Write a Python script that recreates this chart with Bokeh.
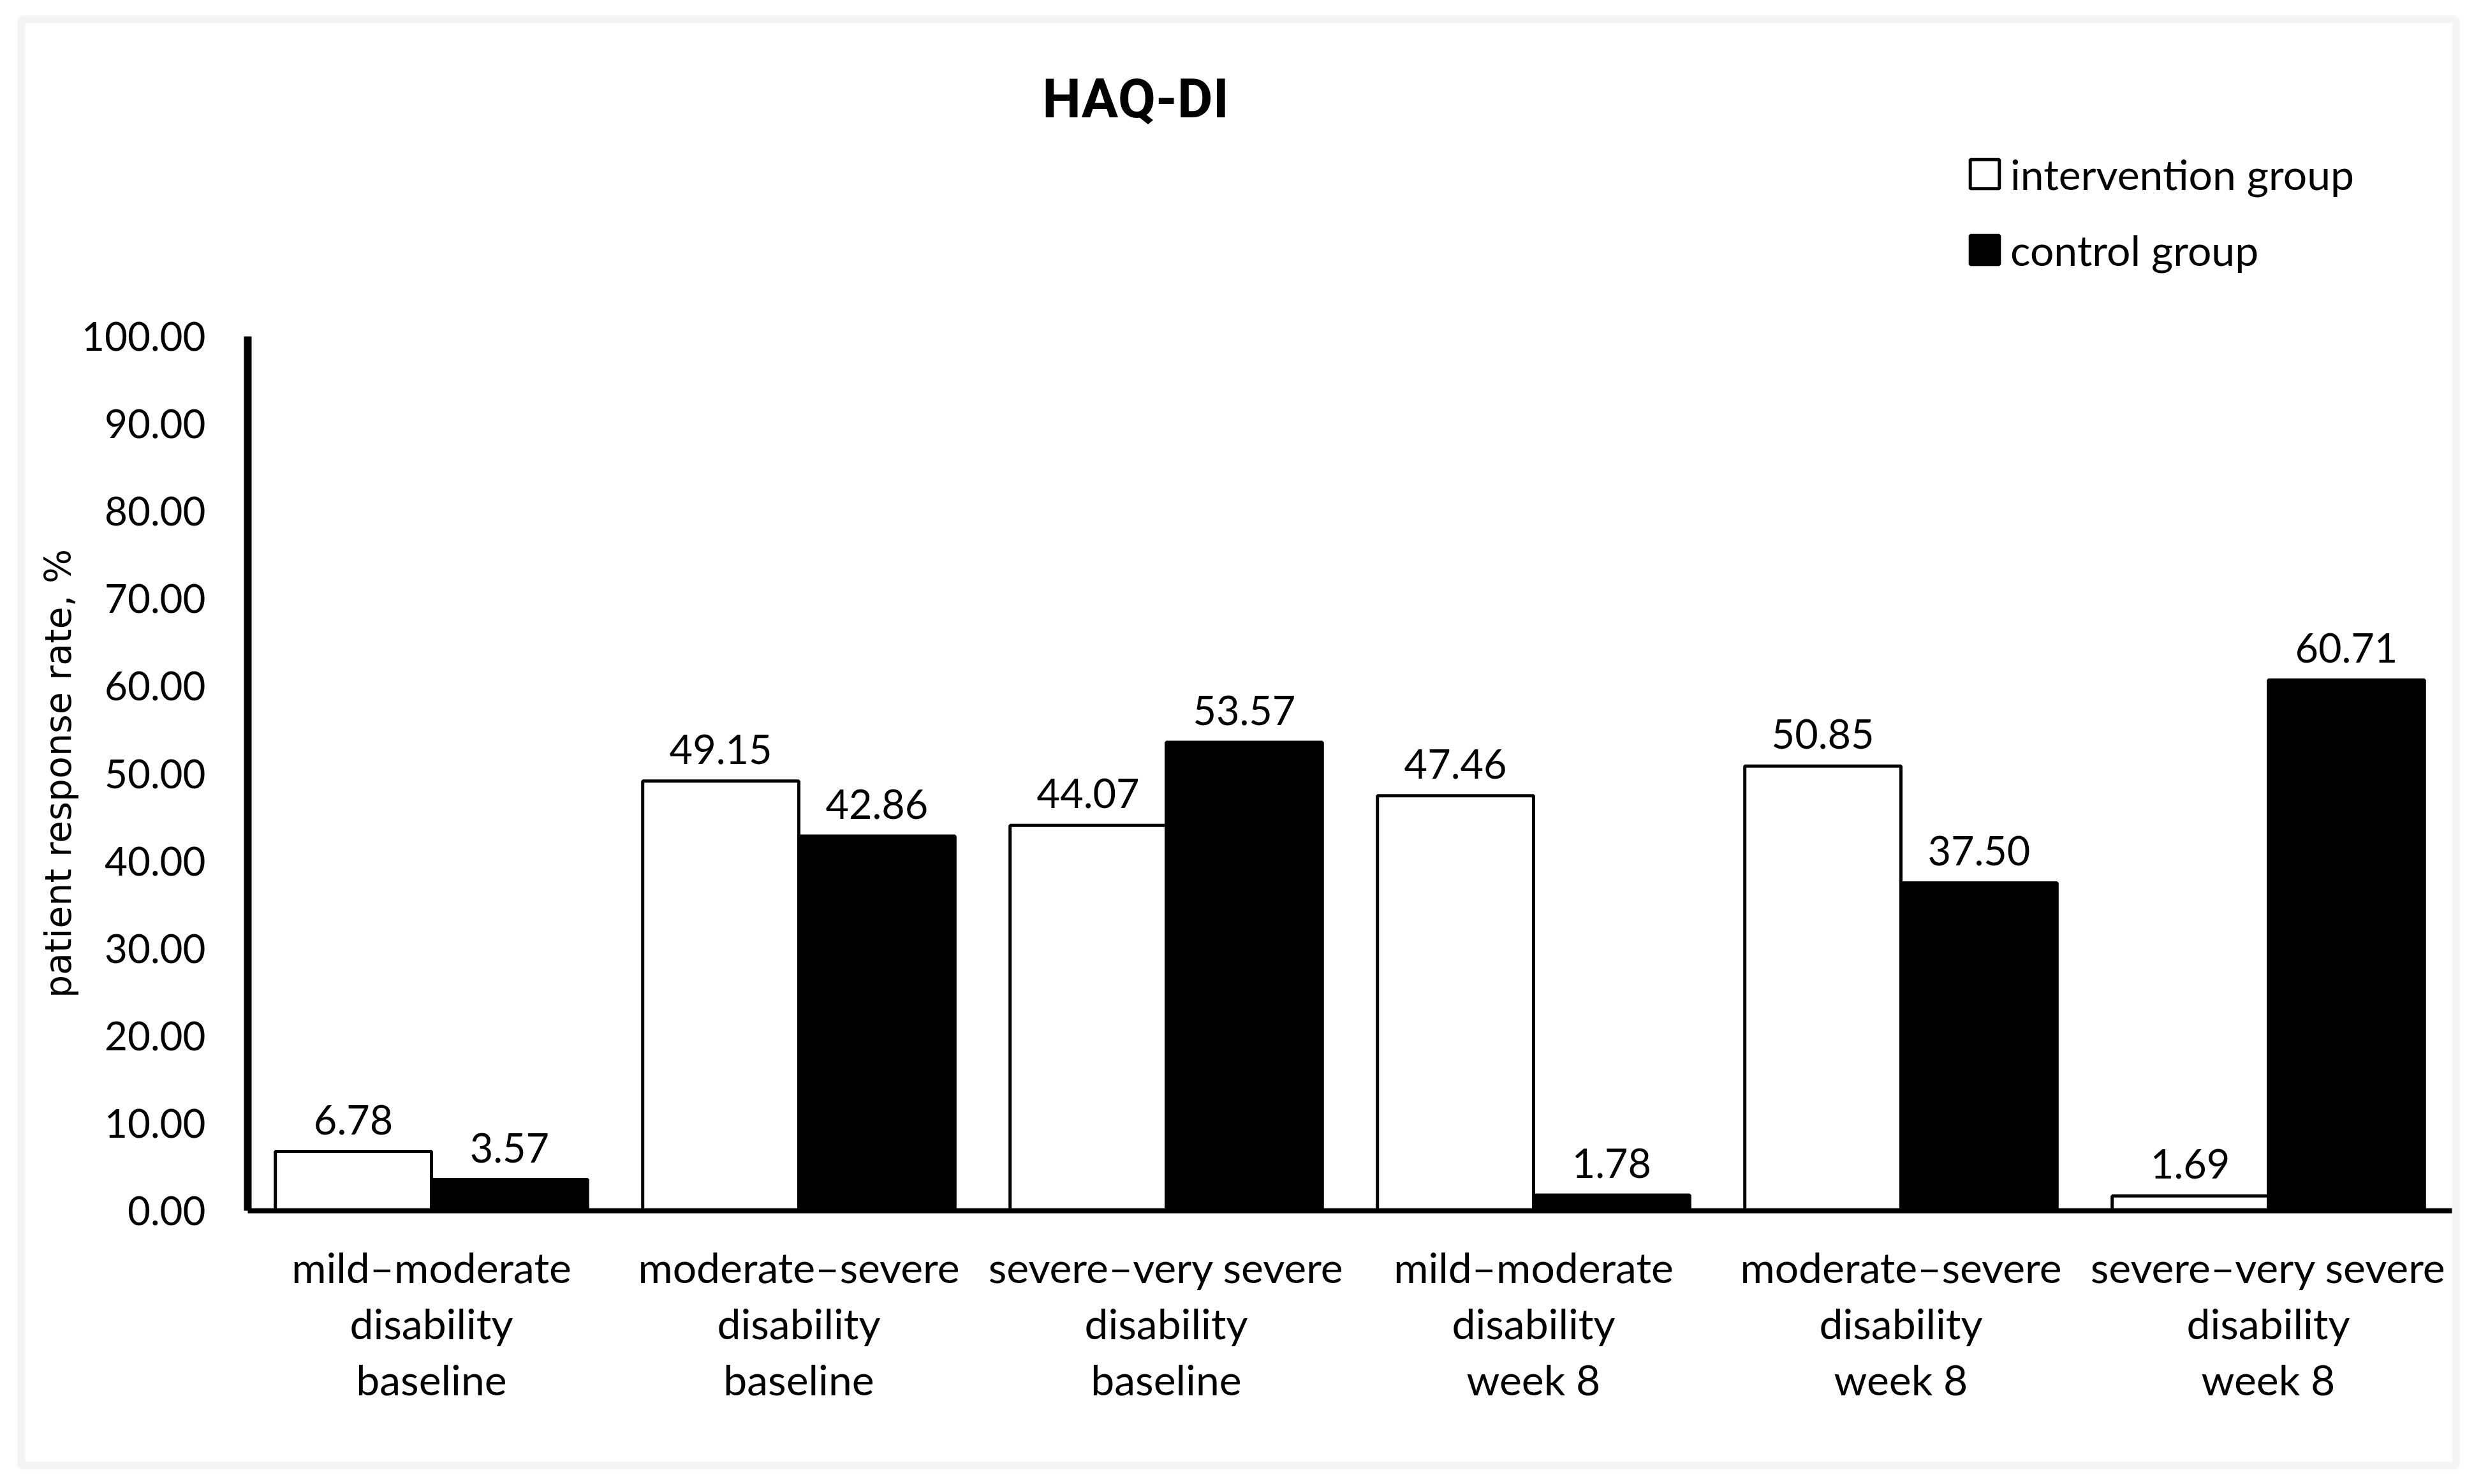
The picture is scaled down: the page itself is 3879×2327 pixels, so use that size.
import math
from bokeh.plotting import figure
from bokeh.models import (ColumnDataSource, Range1d, FixedTicker, PrintfTickFormatter,
                          Label, Legend, LegendItem, BoxAnnotation, LinearAxis)
from bokeh.core.properties import value
from bokeh.embed import file_html
from bokeh.resources import INLINE

# ---- data ----
categories = [
    "mild–moderate disability baseline",
    "moderate–severe disability baseline",
    "severe–very severe disability baseline",
    "mild–moderate disability week 8",
    "moderate–severe disability week 8",
    "severe–very severe disability week 8",
]
label_line1 = ["mild–moderate", "moderate–severe", "severe–very severe",
               "mild–moderate", "moderate–severe", "severe–very severe"]
label_line2 = ["disability"] * 6
label_line3 = ["baseline", "baseline", "baseline", "week 8", "week 8", "week 8"]
intervention = [6.78, 49.15, 44.07, 47.46, 50.85, 1.69]
control = [3.57, 42.86, 53.57, 1.78, 37.50, 60.71]
y_ticks = [0, 10, 20, 30, 40, 50, 60, 70, 80, 90, 100]
series_names = ["intervention group", "control group"]
title_text = "HAQ-DI"
y_label_text = "patient response rate, %"

BW = 0.425
centers = [i + 0.5 for i in range(len(categories))]
src = ColumnDataSource(dict(
    cats=categories,
    xc=centers,
    xi=[c - BW / 2 for c in centers],
    xk=[c + BW / 2 for c in centers],
    interv=intervention,
    ctrl=control,
    interv_txt=[f"{v:.2f}" for v in intervention],
    ctrl_txt=[f"{v:.2f}" for v in control],
))

# ---- geometry (pixels) ----
W, H = 3879, 2327
X0 = 388          # pixel of x = 0
PX = 576.0        # pixels per category
Y0 = 1898         # pixel (from top) of y = 0
PY = 13.71        # pixels per percent

p = figure(width=W, height=H, output_backend="svg", toolbar_location=None,
           x_range=Range1d(-X0 / PX, (W - X0) / PX),
           y_range=Range1d(-(H - Y0) / PY, Y0 / PY),
           min_border=0, min_border_left=0, min_border_right=0,
           min_border_top=0, min_border_bottom=0,
           x_axis_type=None, y_axis_type=None)
p.background_fill_color = "white"
p.border_fill_color = "white"
p.outline_line_color = None
p.grid.visible = False

FONT = "Lato"

r1 = p.vbar(x="xi", top="interv", width=BW, bottom=0, source=src,
            fill_color="white", line_color="black", line_width=5)
r2 = p.vbar(x="xk", top="ctrl", width=BW, bottom=0, source=src,
            fill_color="black", line_color="black", line_width=5)

for xcol, col in (("xi", "interv"), ("xk", "ctrl")):
    p.text(x=xcol, y=col, text=col + "_txt", source=src,
           text_font=value(FONT), text_font_size="63px", text_color="black",
           text_align="center", text_baseline="alphabetic", y_offset=-50)

# y axis
ya = LinearAxis(fixed_location=0, bounds=(0, 100))
ya.ticker = FixedTicker(ticks=y_ticks)
ya.formatter = PrintfTickFormatter(format="%.2f")
ya.axis_line_width = 12
ya.axis_line_color = "black"
ya.major_tick_line_color = None
ya.minor_tick_line_color = None
ya.major_tick_out = 0
ya.major_tick_in = 0
ya.major_label_standoff = 66
ya.major_label_text_font = FONT
ya.major_label_text_font_size = "62px"
ya.major_label_text_color = "black"
p.add_layout(ya, "left")

# x axis: three stacked label lines
for k, (lines, standoff) in enumerate(((label_line1, 48), (label_line2, 136), (label_line3, 224))):
    xa = LinearAxis(fixed_location=0, bounds=(0, len(categories)))
    xa.ticker = FixedTicker(ticks=centers)
    xa.major_label_overrides = {c: t for c, t in zip(centers, lines)}
    xa.axis_line_width = 8
    xa.axis_line_color = "black" if k == 0 else None
    xa.major_tick_line_color = None
    xa.minor_tick_line_color = None
    xa.major_tick_out = 0
    xa.major_tick_in = 0
    xa.major_label_standoff = standoff
    xa.major_label_text_font = FONT
    xa.major_label_text_font_size = "66px"
    xa.major_label_text_color = "black"
    p.add_layout(xa, "below")

# title
p.add_layout(Label(x=(1780 - X0) / PX, y=(Y0 - 154) / PY, text=title_text,
                   text_font="Roboto", text_font_style="bold", text_font_size="86px",
                   text_align="center", text_baseline="alphabetic", text_color="black"))

# y axis label
p.add_layout(Label(x=(90 - X0) / PX, y=50, text=y_label_text, angle=math.pi / 2,
                   text_font="DejaVu Sans", text_font_size="57px",
                   text_align="center", text_baseline="middle", text_color="black"))

# legend
legend = Legend(items=[LegendItem(label=series_names[0], renderers=[r1]),
                       LegendItem(label=series_names[1], renderers=[r2])],
                location=(3083, H - 431), orientation="vertical",
                glyph_width=57, glyph_height=57, label_height=57, label_standoff=12,
                spacing=40, padding=0, margin=0,
                label_text_font=FONT, label_text_font_size="66px",
                label_text_baseline="middle", label_text_color="black",
                border_line_color=None, background_fill_alpha=0)
p.add_layout(legend)

# outer light-grey frame
p.add_layout(BoxAnnotation(left=33, right=3850.5, top=30, bottom=2298,
                           left_units="canvas", right_units="canvas",
                           top_units="canvas", bottom_units="canvas",
                           fill_color=None, line_color="#d9d9d9", line_width=12))

open("out.html", "w").write(file_html(p, INLINE))
